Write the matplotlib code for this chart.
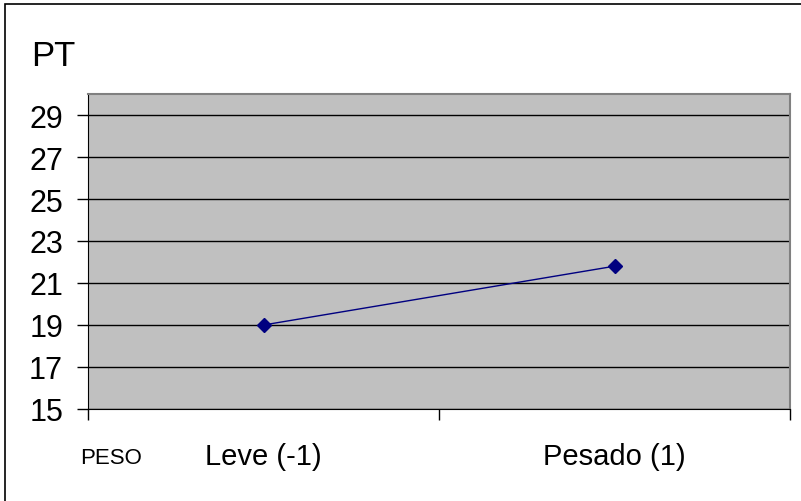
import matplotlib
matplotlib.use("Agg")
import matplotlib.pyplot as plt
from matplotlib.patches import Rectangle

categories = ["Leve (-1)", "Pesado (1)"]
pt_values = [19.0, 21.8]
y_ticks = [15, 17, 19, 21, 23, 25, 27, 29]

plt.rcParams['font.family'] = ['Liberation Sans', 'DejaVu Sans']

W, H = 801, 502
fig = plt.figure(figsize=(W / 100, H / 100), dpi=100)
fig.patch.set_facecolor("white")

# outer chart frame
fig.patches.append(Rectangle((5 / W, -0.05), 1.1, 1 - 5 / H + 0.05,
                             transform=fig.transFigure, fill=False,
                             edgecolor="black", linewidth=1.2))

ax = fig.add_axes([88 / W, (H - 410) / H, (790 - 88) / W, (410 - 95) / H])
ax.set_facecolor("#C0C0C0")

x = [i + 0.5 for i in range(len(categories))]
ax.plot(x, pt_values, color="#000080", linewidth=1.0, marker="D",
        markersize=7, markerfacecolor="#000080", markeredgecolor="#000080",
        zorder=3)

ax.set_xlim(0, len(categories))
ax.set_ylim(15, 30)
ax.set_yticks(y_ticks)
ax.set_yticklabels([str(v) for v in y_ticks], fontsize=22)
ax.yaxis.grid(True, color="black", linewidth=1.0)
ax.set_axisbelow(True)

ax.set_xticks(range(len(categories) + 1))
ax.set_xticklabels([])
ax.set_xticks(x, minor=True)
ax.set_xticklabels(categories, minor=True, fontsize=21)
ax.tick_params(axis="x", which="minor", length=0, pad=24)
ax.tick_params(axis="x", which="major", direction="out", length=8, width=1)
ax.tick_params(axis="y", direction="out", length=8, width=1, pad=10)

for side in ("left", "bottom"):
    ax.spines[side].set_color("black")
for side in ("top", "right"):
    ax.spines[side].set_color("#808080")
    ax.spines[side].set_linewidth(1.5)

fig.text(31 / W, 1 - 66 / H, "PT", fontsize=25, va="baseline", ha="left")
fig.text(80 / W, 1 - 459 / H, "PESO", fontsize=16, va="center", ha="left")

fig.savefig("out.png", dpi=100, facecolor="white")
